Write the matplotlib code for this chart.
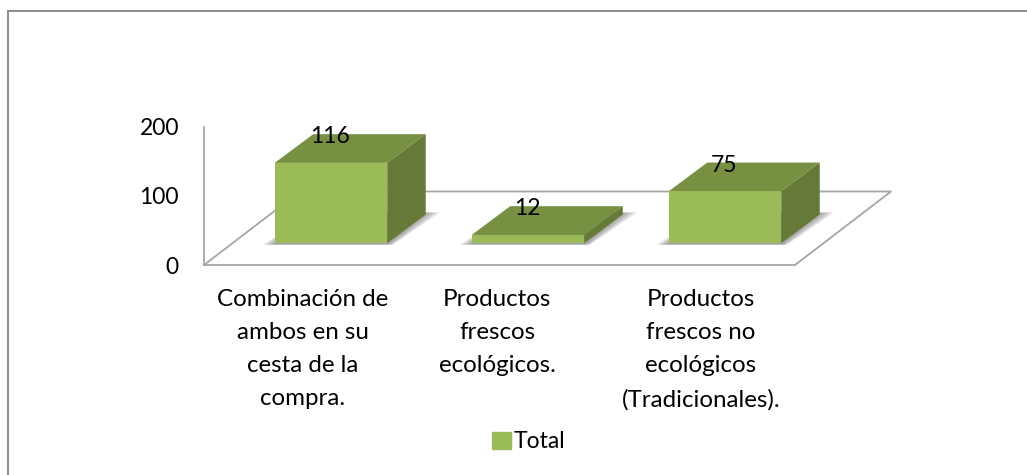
import matplotlib
matplotlib.use('Agg')
import matplotlib.pyplot as plt
from matplotlib.lines import Line2D
from matplotlib.patches import Rectangle
from matplotlib.transforms import ScaledTranslation

plt.rcParams['font.family'] = ['Lato', 'DejaVu Sans']

categories = ['Combinación de\nambos en su\ncesta de la\ncompra.',
              'Productos\nfrescos\necológicos.',
              'Productos\nfrescos no\necológicos\n(Tradicionales).']
values = [116, 12, 75]
y_ticks = [0, 100, 200]
series_name = 'Total'

FRONT = '#9bbb59'
TOP = '#779042'
SIDE = '#647a36'
LINE = '#a6a6a6'

W, H = 1027, 475
fig = plt.figure(figsize=(W / 100, H / 100), dpi=100)
fig.patch.set_facecolor('white')

# outer frame, only left and top edges show in the crop
fig.add_artist(Line2D([8 / W, 8 / W, 1], [0, 1 - 11 / H, 1 - 11 / H], transform=fig.transFigure,
                      color='#8c8c8c', lw=1.4, solid_joinstyle='miter'))

# axes = front edge of the floor, y scale runs up the back wall line
left, right, base, top = 204, 795, 265, 126.5
ax = fig.add_axes([left / W, 1 - base / H, (right - left) / W, (base - top) / H])
ax.set_xlim(-0.5, 2.5)
ax.set_ylim(0, 200)
ax.patch.set_alpha(0)

px_x = (right - left) / 3
px_y = (base - top) / 200

# 3d offsets in pixels, turned into data units
floor_dx, floor_dy = 96 / px_x, 73.5 / px_y
bar_dx, bar_dy = 28.5 / px_x, 21.8 / px_y
depth_dx, depth_dy = 38.5 / px_x, 28.7 / px_y
bar_w = 112.5 / px_x

for s in ['top', 'right']:
    ax.spines[s].set_visible(False)
for s in ['left', 'bottom']:
    ax.spines[s].set_color(LINE)
    ax.spines[s].set_linewidth(1.3)

ax.plot([-0.5, -0.5 + floor_dx, 2.5 + floor_dx, 2.5], [0, floor_dy, floor_dy, 0],
        color=LINE, lw=1.3, clip_on=False, zorder=1)

for i, v in enumerate(values):
    x0 = i - bar_w / 2 + bar_dx
    x1 = x0 + bar_w
    y0 = bar_dy
    y1 = bar_dy + v
    # soft shadow on the floor
    for k in range(6):
        g = (6 - k) * 2
        gx = g / px_x
        ax.fill([x0 - gx, x1 + gx * 0.5, x1 + depth_dx + gx * 1.2, x0 + depth_dx],
                [y0 - 1.5 / px_y, y0 - 1.5 / px_y, y0 + depth_dy + 2 / px_y, y0 + depth_dy + 2 / px_y],
                color='#6f6f6f', alpha=0.14, lw=0, zorder=2, clip_on=False)
    ax.bar(i + bar_dx, v, width=bar_w, bottom=y0, color=FRONT, zorder=4, clip_on=False)
    ax.fill([x0, x1, x1 + depth_dx, x0 + depth_dx], [y1, y1, y1 + depth_dy, y1 + depth_dy],
            color=TOP, lw=0, zorder=3, clip_on=False)
    ax.fill([x1, x1 + depth_dx, x1 + depth_dx, x1], [y0, y0 + depth_dy, y1 + depth_dy, y1],
            color=SIDE, lw=0, zorder=3, clip_on=False)
    ax.annotate(str(v), (i + bar_dx, y1), xytext=(-0.5, 26 * 0.72), textcoords='offset points',
                ha='center', va='center', fontsize=16.5, color='black', zorder=6)

ax.set_yticks(y_ticks)
ax.set_xticks(range(len(categories)))
ax.set_xticklabels(categories, fontsize=17.4, linespacing=1.72, color='black')
ax.tick_params(axis='x', length=0, pad=17)
ax.tick_params(axis='y', length=0, pad=18, labelsize=16.5, labelcolor='black')
for lab, shift in zip(ax.get_xticklabels(), [0, -2.5, 4.5]):
    lab.set_transform(lab.get_transform() + ScaledTranslation(shift / 100, 0, fig.dpi_scale_trans))

handle = Rectangle((0, 0), 1, 1, color=FRONT)
fig.legend([handle], [series_name], loc='center', bbox_to_anchor=(529 / W, 1 - 442 / H), frameon=False,
           fontsize=16.5, handlelength=0.8, handleheight=0.8, handletextpad=0.15)

fig.savefig('out.png', dpi=100)
